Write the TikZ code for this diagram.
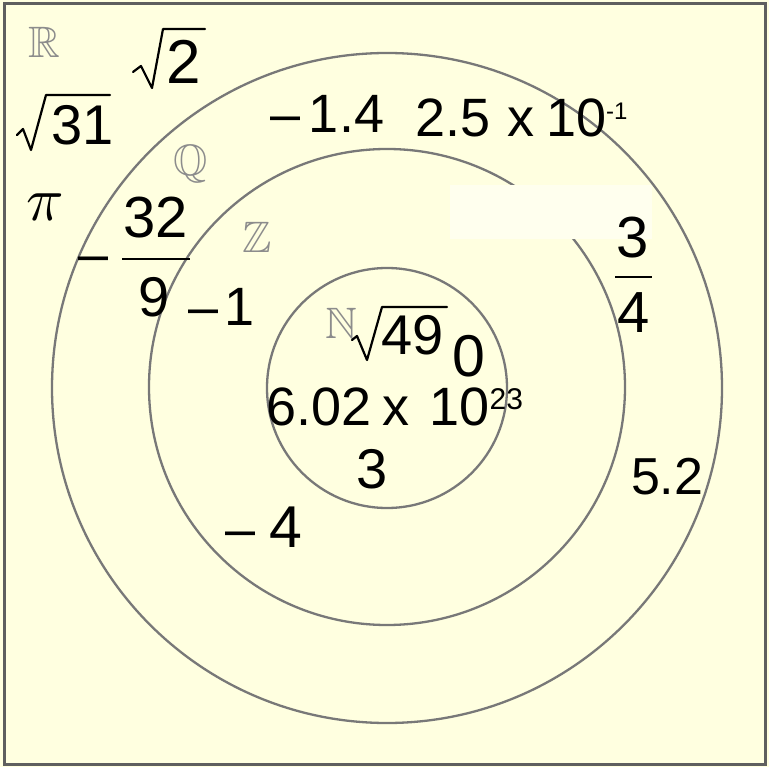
\documentclass[tikz,border=0pt]{standalone}
\usepackage{amssymb}
\usepackage{fontspec}
\setmainfont{Liberation Sans}
\definecolor{bgyellow}{RGB}{255,255,224}
\definecolor{patchwhite}{RGB}{255,255,238}
\definecolor{ringgray}{RGB}{120,120,120}
\definecolor{framegray}{RGB}{95,95,95}
\definecolor{setgray}{RGB}{140,140,140}
\newcommand{\fsz}[1]{\fontsize{#1}{#1}\selectfont}
\begin{document}
\begin{tikzpicture}[x=1pt,y=-1pt,
  num/.style={inner sep=0pt, outer sep=0pt, anchor=base west, text=black},
  setname/.style={inner sep=0pt, outer sep=0pt, anchor=base west, text=setgray},
  ringline/.style={draw=ringgray, line width=2.3pt},
  radline/.style={draw=black, line width=2.2pt, line join=round, line cap=round},
  fracbar/.style={draw=black, line width=2.6pt}]
\fill[bgyellow] (0,0) rectangle (769,767);
\useasboundingbox (0,0) rectangle (769,767);
% rings
\draw[ringline] (387,388) circle[radius=335pt];
\draw[ringline] (387,387) circle[radius=238pt];
\draw[ringline] (387,388) circle[radius=120pt];
% whitish patch
\fill[patchwhite] (450,185) rectangle (652,239);
% frame
\draw[draw=framegray, line width=3pt] (4,4) rectangle (765,764);
% set names
\node[setname] (setR) at (28,58) {\scalebox{4.4}{$\mathbb{R}$}};
\node[setname] (setQ) at (173,176) {\scalebox{4.4}{$\mathbb{Q}$}};
\node[setname] (setZ) at (242,253) {\scalebox{4.4}{$\mathbb{Z}$}};
\node[setname] (setN) at (325,339) {\scalebox{4.4}{$\mathbb{N}$}};
% irrationals
\node[num, font=\fsz{62}] (sqrt2) at (166,84) {2};
\draw[radline] (133,72) -- (141,66) -- (152,88) -- (163,29) -- (205,29);
\node[num, font=\fsz{56}] (sqrt31) at (51,145) {31};
\draw[radline] (17,135) -- (23,129) -- (31,150) -- (46,95) -- (110,95);
\node[num] (pi) at (26,221) {\scalebox{6.2}{$\pi$}};
% rationals
\node[num, font=\fsz{54}] (m14) at (270,133) {–\hspace{9pt}1.4};
\node[num, font=\fsz{54}] (sci1) at (415,137) {2.5\hspace{17pt}x\hspace{12pt}10\raisebox{17pt}{\fsz{24}-1}};
\node[num, font=\fsz{54}] (fracminus) at (78,273) {–};
\node[num, font=\fsz{58}] (num32) at (123,238) {32};
\node[num, font=\fsz{56}] (den9) at (138,317) {9};
\draw[fracbar] (122,259) -- (190,259);
\node[num, font=\fsz{58}] (num3) at (616,258) {3};
\node[num, font=\fsz{58}] (den4) at (617,333) {4};
\draw[fracbar] (615,277) -- (652,277);
\node[num, font=\fsz{52}] (n52) at (631,494) {5.2};
% integers
\node[num, font=\fsz{54}] (m1) at (188,326) {–\hspace{6pt}1};
\node[num, font=\fsz{54}] (m4) at (225,547) {–\hspace{14pt}{\fsz{59}4}};
% naturals
\node[num, font=\fsz{56}] (sqrt49) at (381,355) {49};
\draw[radline] (352,340) -- (357,336) -- (367,360) -- (382,307) -- (447,307);
\node[num, font=\fsz{59}] (zero) at (452,377) {0};
\node[num, font=\fsz{54}] (avog) at (266,426) {6.02\hspace{11pt}x\hspace{20pt}10\hspace{0.5pt}\raisebox{17pt}{\fsz{30}23}};
\node[num, font=\fsz{56}] (three) at (356,488) {3};
\end{tikzpicture}
\end{document}
